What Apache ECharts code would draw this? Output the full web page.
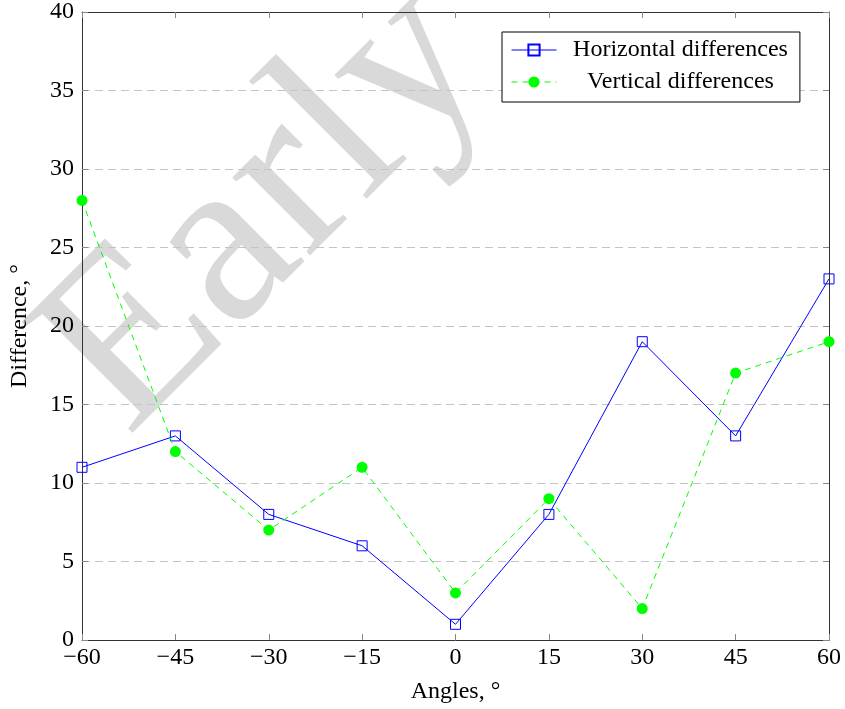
<!DOCTYPE html>
<html>
<head>
<meta charset="utf-8">
<script src="https://cdn.jsdelivr.net/npm/echarts@6/dist/echarts.min.js"></script>
<style>
  html, body { margin: 0; padding: 0; background: #fff; }
  #chart { width: 845px; height: 709px; }
</style>
</head>
<body>
<div id="chart"></div>
<script>
// --- DATEN ---
const angles = [-60, -45, -30, -15, 0, 15, 30, 45, 60];
const horizontalDiff = [11, 13, 8, 6, 1, 8, 19, 13, 23];
const verticalDiff = [28, 12, 7, 11, 3, 9, 2, 17, 19];
const seriesNames = ['Horizontal differences', 'Vertical differences'];
const watermarkText = 'Early';

const FONT = 'Liberation Serif';
const minus = v => (v < 0 ? '\u2212' + (-v) : String(v));

const chart = echarts.init(document.getElementById('chart'));

const pairs = arr => angles.map((a, i) => [a, arr[i]]);

chart.setOption({
    backgroundColor: '#fff',
    animation: false,
    textStyle: { fontFamily: FONT, color: '#000' },
    // Wasserzeichen
    graphic: [{
        type: 'text',
        z: -10,
        x: 168,
        y: 478,
        rotation: Math.PI / 4,
        silent: true,
        style: {
            text: watermarkText,
            font: '240px "Liberation Serif"',
            fill: '#d9d9d9',
            align: 'left',
            verticalAlign: 'bottom'
        }
    }],
    grid: { left: 80, right: 16, top: 12, bottom: 67, containLabel: false },
    legend: {
        data: seriesNames,
        orient: 'vertical',
        left: 502,
        top: 32,
        padding: [6, 12, 8, 9],
        itemGap: 8,
        itemWidth: 45,
        itemHeight: 14,
        borderColor: '#000',
        borderWidth: 1,
        backgroundColor: '#fff',
        selectedMode: false,
        lineStyle: { width: 1 },
        formatter: name => '{c|' + name + '}',
        textStyle: {
            fontFamily: FONT,
            fontSize: 24,
            color: '#000',
            rich: { c: { width: 238, align: 'center', fontFamily: FONT, fontSize: 24 } }
        }
    },
    xAxis: [{
        type: 'value',
        min: -60,
        max: 60,
        interval: 15,
        name: 'Angles, \u00b0',
        nameLocation: 'middle',
        nameGap: 40,
        nameTextStyle: { fontFamily: FONT, fontSize: 24, color: '#000' },
        axisLine: { onZero: false, lineStyle: { color: '#333', width: 1 } },
        axisTick: { inside: true, length: 6, lineStyle: { color: '#888' } },
        axisLabel: { formatter: minus, fontFamily: FONT, fontSize: 24, color: '#000', margin: 6 },
        splitLine: { show: false }
    }, {
        type: 'value',
        position: 'top',
        min: -60,
        max: 60,
        interval: 15,
        axisLine: { onZero: false, lineStyle: { color: '#333', width: 1 } },
        axisTick: { inside: true, length: 6, lineStyle: { color: '#888' } },
        axisLabel: { show: false },
        splitLine: { show: false }
    }],
    yAxis: [{
        type: 'value',
        min: 0,
        max: 40,
        interval: 5,
        name: 'Difference, \u00b0',
        nameLocation: 'middle',
        nameGap: 50,
        nameTextStyle: { fontFamily: FONT, fontSize: 24, color: '#000' },
        axisLine: { show: true, onZero: false, lineStyle: { color: '#333', width: 1 } },
        axisTick: { show: true, inside: true, length: 6, lineStyle: { color: '#888' } },
        axisLabel: { fontFamily: FONT, fontSize: 24, color: '#000', margin: 8 },
        splitLine: { show: true, lineStyle: { color: '#c4c4c4', type: [8, 5], width: 1 } }
    }, {
        type: 'value',
        position: 'right',
        min: 0,
        max: 40,
        interval: 5,
        axisLine: { show: true, onZero: false, lineStyle: { color: '#333', width: 1 } },
        axisTick: { show: true, inside: true, length: 6, lineStyle: { color: '#888' } },
        axisLabel: { show: false },
        splitLine: { show: false }
    }],
    series: [{
        name: seriesNames[0],
        type: 'line',
        data: pairs(horizontalDiff),
        symbol: 'rect',
        symbolSize: 10,
        lineStyle: { color: '#0000ff', width: 1 },
        itemStyle: { color: 'rgba(0,0,0,0)', borderColor: '#0000ff', borderWidth: 1 },
        z: 3
    }, {
        name: seriesNames[1],
        type: 'line',
        data: pairs(verticalDiff),
        symbol: 'circle',
        symbolSize: 11,
        lineStyle: { color: '#00ff00', width: 1, type: [6, 5] },
        itemStyle: { color: '#00ff00' },
        z: 4
    }]
});

window.addEventListener('resize', () => chart.resize());
</script>
</body>
</html>
